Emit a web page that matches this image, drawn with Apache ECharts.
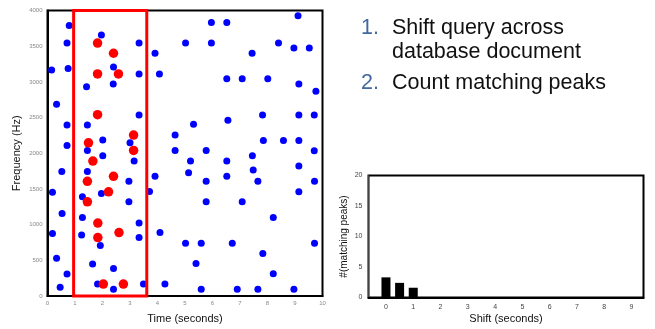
<!DOCTYPE html>
<html>
<head>
<meta charset="utf-8">
<script src="https://cdn.jsdelivr.net/npm/echarts@6/dist/echarts.min.js"></script>
<style>
html,body{margin:0;padding:0;background:#fff;}
#c{width:655px;height:329px;}
</style>
</head>
<body>
<div id="c"></div>
<script>
// Database peaks (time s, frequency Hz)
const dbTimes = [0.79,0.71,0.15,0.75,1.96,3.33,2.40,2.39,1.42,0.33,3.33,3.33,0.71,1.45,2.01,3.00,0.71,1.45,2.01,
  5.96,6.52,5.02,5.96,3.91,4.07,6.52,5.31,6.56,4.64,4.64,5.77,9.11,8.40,8.96,9.52,7.44,7.08,8.01,9.14,9.76,
  7.82,9.14,9.70,7.85,8.58,9.14,9.70,7.45,3.15,0.52,1.45,2.96,0.18,1.27,1.96,2.96,0.53,1.27,0.18,1.24,1.92,
  3.33,3.33,0.33,1.64,2.40,0.71,0.46,1.82,2.40,5.20,6.52,3.91,5.13,5.77,6.52,3.71,5.77,4.09,5.02,5.59,6.72,
  5.40,3.49,4.27,5.59,7.48,9.14,7.65,9.71,9.14,7.08,8.21,9.71,7.83,8.21,6.90,7.65,8.96];
const dbFreqs = [3790,3545,3168,3187,3656,3544,3210,2969,2931,2686,3112,2537,2397,2397,2184,2146,2109,2039,1965,
  3833,3833,3544,3544,3401,3112,3043,2407,2463,2254,2039,2039,3926,3544,3475,3475,3401,3043,3043,2969,2867,
  2537,2537,2537,2178,2178,2178,2035,1965,1891,1746,1746,1607,1454,1390,1436,1320,1157,1101,874,854,707,
  1022,818,530,450,386,307,121,167,93,1891,1891,1677,1728,1607,1677,1463,1320,888,739,739,739,
  456,167,167,93,1766,1822,1607,1607,1459,1320,1101,739,595,311,93,93,93];
// Query peaks
const qTimes = [1.82,2.40,1.82,2.58,1.82,3.13,1.49,3.13,1.65,2.40,1.45,2.22,1.45,1.83,2.60,1.83,2.03,2.76];
const qFreqs = [3544,3401,3112,3112,2541,2254,2146,2039,1891,1677,1607,1459,1320,1022,888,818,167,167];
// Query window (seconds) and frequency span
const queryWindow = [0.95, 3.61];
const freqSpan = [0, 4000];
// Axis ticks
const timeTicks = [0,1,2,3,4,5,6,7,8,9,10];
const freqTicks = [0,500,1000,1500,2000,2500,3000,3500,4000];
// Shift histogram
const shifts = [0, 0.5, 1];
const matchCounts = [3.3, 2.4, 1.6];
const shiftTicks = [0,1,2,3,4,5,6,7,8,9];
const countTicks = [0,5,10,15,20];
const steps = ['1.', '2.'];
const stepTexts = [['Shift query across', 'database document'], ['Count matching peaks']];

const FF = '"Liberation Sans", Arial, sans-serif';
const chart = echarts.init(document.getElementById('c'), null, {renderer: 'canvas'});

const zip = (a, b) => a.map((v, i) => [v, b[i]]);
const plain = v => String(v);

const option = {
  animation: false,
  backgroundColor: '#fff',
  textStyle: {fontFamily: FF},
  grid: [
    {left: 47.5, top: 10.5, width: 275, height: 287, show: true, borderColor: '#000', borderWidth: 2, backgroundColor: 'transparent'},
    {left: 368.5, top: 175.5, width: 275, height: 122, show: true, borderColor: '#000', borderWidth: 2, backgroundColor: 'transparent'}
  ],
  xAxis: [
    {gridIndex: 0, type: 'value', min: timeTicks[0], max: timeTicks[timeTicks.length-1], interval: 1,
     name: 'Time (seconds)', nameLocation: 'middle', nameGap: 17,
     nameTextStyle: {fontSize: 11, color: '#111', fontFamily: FF},
     axisLine: {show: true, onZero: false, lineStyle: {color: '#000', width: 2}}, axisTick: {show: false},
     axisLabel: {fontSize: 6, color: '#888', margin: 4, fontFamily: FF, formatter: plain}, splitLine: {show: false}},
    {gridIndex: 1, type: 'value', min: -0.64, max: 9.44,
     name: 'Shift (seconds)', nameLocation: 'middle', nameGap: 16,
     nameTextStyle: {fontSize: 11, color: '#111', fontFamily: FF},
     axisLine: {show: true, onZero: false, lineStyle: {color: '#000', width: 2}}, axisTick: {show: false},
     axisLabel: {fontSize: 7, color: '#444', margin: 6, fontFamily: FF, customValues: shiftTicks, formatter: plain},
     splitLine: {show: false}}
  ],
  yAxis: [
    {gridIndex: 0, type: 'value', min: freqTicks[0], max: freqTicks[freqTicks.length-1], interval: 500,
     name: 'Frequency (Hz)', nameLocation: 'middle', nameGap: 25, nameRotate: 90,
     nameTextStyle: {fontSize: 11, color: '#111', fontFamily: FF},
     axisLine: {show: true, onZero: false, lineStyle: {color: '#000', width: 2}}, axisTick: {show: false},
     axisLabel: {fontSize: 6, color: '#888', margin: 5, fontFamily: FF, formatter: plain}, splitLine: {show: false}},
    {gridIndex: 1, type: 'value', min: countTicks[0], max: countTicks[countTicks.length-1], interval: 5,
     name: '#(matching peaks)', nameLocation: 'middle', nameGap: 19, nameRotate: 90,
     nameTextStyle: {fontSize: 10, color: '#111', fontFamily: FF},
     axisLine: {show: true, onZero: false, lineStyle: {color: '#444', width: 1}}, axisTick: {show: false},
     axisLabel: {fontSize: 7, color: '#444', margin: 6, fontFamily: FF, formatter: plain}, splitLine: {show: false}}
  ],
  series: [
    {type: 'scatter', xAxisIndex: 0, yAxisIndex: 0, data: zip(dbTimes, dbFreqs),
     symbolSize: 7, itemStyle: {color: '#0000ff', opacity: 1}, z: 2},
    {type: 'scatter', xAxisIndex: 0, yAxisIndex: 0, data: zip(qTimes, qFreqs),
     symbolSize: 9.5, itemStyle: {color: '#ff0000', opacity: 1}, z: 3,
     markArea: {silent: true, z: 4,
       itemStyle: {color: 'rgba(0,0,0,0)', borderColor: '#ff0000', borderWidth: 3},
       data: [[{xAxis: queryWindow[0], yAxis: freqSpan[0]}, {xAxis: queryWindow[1], yAxis: freqSpan[1]}]]}},
    {type: 'bar', xAxisIndex: 1, yAxisIndex: 1, data: zip(shifts, matchCounts),
     barWidth: 9, itemStyle: {color: '#000'}}
  ],
  graphic: [
    {type: 'text', left: 361, top: 17.5, style: {text: steps[0], fontSize: 21.5, fill: '#41699e', fontFamily: FF}},
    {type: 'text', left: 392, top: 17.5, style: {text: stepTexts[0][0], fontSize: 21.5, fill: '#111', fontFamily: FF}},
    {type: 'text', left: 392, top: 41.5, style: {text: stepTexts[0][1], fontSize: 21.5, fill: '#111', fontFamily: FF}},
    {type: 'text', left: 361, top: 72.5, style: {text: steps[1], fontSize: 21.5, fill: '#41699e', fontFamily: FF}},
    {type: 'text', left: 392, top: 72.5, style: {text: stepTexts[1][0], fontSize: 21.5, fill: '#111', fontFamily: FF}}
  ]
};
chart.setOption(option);
</script>
</body>
</html>
